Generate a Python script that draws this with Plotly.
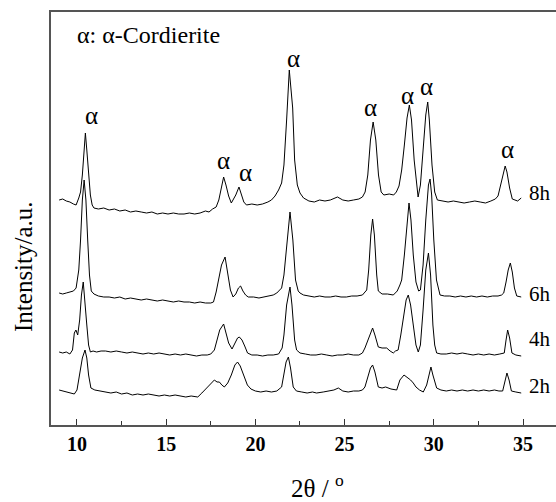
import plotly.graph_objects as go

# ---- data (2theta in degrees, intensity in a.u., traces already offset for display) ----
tt_8h = [9.0, 9.2, 9.4, 9.6, 9.8, 9.95, 10.1, 10.2, 10.3, 10.4, 10.47, 10.55, 10.65, 10.75, 10.85, 10.95,
         11.2, 11.5, 11.8, 12.1, 12.4, 12.7, 13.0, 13.3, 13.6, 13.9, 14.2, 14.5, 14.8, 15.1, 15.4, 15.7,
         16.0, 16.3, 16.6, 16.9, 17.2, 17.4, 17.6, 17.8, 17.95, 18.1, 18.22, 18.35, 18.5, 18.65, 18.75,
         18.9, 19.08, 19.2, 19.35, 19.5, 19.8, 20.1, 20.4, 20.7, 20.9, 21.1, 21.3, 21.47, 21.6, 21.75,
         21.9, 22.0, 22.09, 22.2, 22.35, 22.5, 22.7, 23.0, 23.3, 23.6, 23.9, 24.2, 24.6, 24.9, 25.2, 25.5,
         25.8, 26.0, 26.15, 26.3, 26.45, 26.6, 26.75, 26.9, 27.05, 27.2, 27.5, 27.75, 27.9, 28.05, 28.2,
         28.35, 28.5, 28.63, 28.75, 28.9, 29.05, 29.12, 29.25, 29.4, 29.55, 29.66, 29.75, 29.9, 30.05,
         30.2, 30.5, 30.8, 31.1, 31.4, 31.7, 32.0, 32.3, 32.6, 32.9, 33.2, 33.45, 33.6, 33.75, 33.9, 34.0,
         34.1, 34.25, 34.4, 34.55, 34.7, 34.9]
int_8h = [225, 226, 224, 223, 221, 220, 227, 233, 250, 275, 292, 275, 250, 230, 220, 217,
          216, 217, 215, 216, 214, 215, 213, 214, 213, 212, 213, 211, 212, 211, 212, 211,
          211, 212, 211, 212, 214, 213, 216, 218, 225, 239, 248, 240, 229, 222, 225,
          230, 238, 231, 223, 220, 221, 220, 221, 223, 225, 229, 235, 242, 260, 305,
          355, 335, 317, 265, 240, 232, 227, 224, 223, 225, 224, 225, 228, 225, 224, 225,
          226, 228, 233, 250, 285, 303, 285, 250, 233, 230, 231, 230, 233, 239, 255,
          280, 307, 320, 305, 265, 235, 228, 240, 275, 310, 323, 305, 260, 233,
          225, 224, 223, 224, 223, 222, 223, 224, 223, 222, 224, 226, 229, 240, 253, 259,
          253, 237, 226, 225, 224, 227]

tt_6h = [9.0, 9.2, 9.4, 9.6, 9.8, 9.95, 10.1, 10.2, 10.3, 10.4, 10.5, 10.6, 10.7, 10.8, 10.95,
         11.2, 11.5, 11.8, 12.1, 12.4, 12.7, 13.0, 13.3, 13.6, 13.9, 14.2, 14.5, 14.8, 15.1, 15.4, 15.7,
         16.0, 16.3, 16.6, 16.9, 17.2, 17.5, 17.65, 17.8, 17.95, 18.1, 18.3, 18.45, 18.6, 18.75, 18.9,
         19.05, 19.17, 19.3, 19.45, 19.6, 19.9, 20.2, 20.5, 20.8, 21.0, 21.2, 21.47, 21.6, 21.75, 21.94,
         22.1, 22.25, 22.4, 22.5, 22.7, 23.0, 23.3, 23.6, 23.9, 24.2, 24.5, 24.8, 25.1, 25.4, 25.7, 26.0,
         26.24, 26.35, 26.47, 26.57, 26.67, 26.8, 26.89, 27.1, 27.4, 27.73, 27.95, 28.1, 28.2, 28.35,
         28.5, 28.61, 28.72, 28.85, 29.0, 29.15, 29.25, 29.4, 29.55, 29.7, 29.79, 29.88, 30.0, 30.15,
         30.35, 30.6, 30.9, 31.2, 31.5, 31.8, 32.1, 32.4, 32.7, 33.0, 33.3, 33.6, 33.8, 33.92, 34.05,
         34.17, 34.29, 34.4, 34.52, 34.65, 34.9]
int_6h = [132, 131, 132, 133, 134, 137, 155, 185, 225, 245, 225, 185, 150, 134, 131,
          129, 128, 128, 127, 128, 126, 127, 126, 125, 126, 125, 124, 125, 124, 123, 124,
          123, 123, 122, 123, 122, 122, 123, 133, 147, 160, 168, 153, 135, 128, 131,
          137, 139, 134, 130, 128, 128, 127, 128, 129, 130, 132, 137, 150, 180, 213,
          185, 145, 134, 132, 130, 129, 128, 129, 128, 128, 129, 128, 128, 129, 129, 130,
          135, 155, 190, 206, 190, 150, 134, 131, 131, 130, 134, 140, 145, 170,
          205, 222, 205, 170, 143, 134, 135, 160, 205, 240, 246, 230, 185, 145,
          130, 129, 129, 128, 129, 128, 129, 128, 129, 128, 129, 129, 130, 132, 143,
          155, 162, 153, 137, 129, 128]

tt_4h = [9.0, 9.2, 9.4, 9.6, 9.75, 9.85, 9.94, 10.04, 10.15, 10.25, 10.35, 10.45, 10.55, 10.65, 10.75,
         10.9, 11.1, 11.35, 11.6, 11.9, 12.2, 12.5, 12.8, 13.1, 13.4, 13.7, 14.0, 14.3, 14.6, 14.9,
         15.2, 15.5, 15.8, 16.1, 16.4, 16.7, 17.0, 17.3, 17.5, 17.7, 17.85, 18.0, 18.22, 18.35, 18.5,
         18.69, 18.85, 19.0, 19.1, 19.25, 19.4, 19.56, 19.8, 20.1, 20.4, 20.7, 21.0, 21.3, 21.5, 21.6,
         21.75, 21.94, 22.05, 22.2, 22.31, 22.5, 22.8, 23.1, 23.4, 23.7, 24.0, 24.3, 24.6, 24.9, 25.2,
         25.5, 25.8, 26.0, 26.14, 26.3, 26.45, 26.57, 26.7, 26.89, 27.1, 27.36, 27.55, 27.73, 27.85,
         28.0, 28.15, 28.3, 28.45, 28.57, 28.7, 28.85, 29.0, 29.13, 29.25, 29.4, 29.55, 29.7, 29.82,
         29.95, 30.05, 30.16, 30.4, 30.7, 31.0, 31.3, 31.6, 31.9, 32.2, 32.5, 32.8, 33.1, 33.4, 33.7,
         33.95, 34.05, 34.14, 34.25, 34.38, 34.6, 34.9]
int_4h = [73, 72, 73, 71, 75, 92, 95, 90, 105, 130, 143, 125, 100, 80, 73,
          74, 73, 74, 74, 73, 74, 73, 72, 73, 72, 71, 72, 71, 72, 71,
          70, 71, 70, 71, 70, 69, 70, 70, 71, 75, 85, 95, 101, 93, 82,
          76, 81, 87, 88, 85, 79, 72, 70, 70, 69, 70, 70, 71, 77, 90,
          120, 138, 120, 85, 75, 72, 71, 70, 70, 71, 70, 69, 70, 70, 71,
          70, 70, 72, 77, 85, 93, 97, 90, 78, 77, 77, 74, 72, 74,
          75, 90, 110, 125, 130, 120, 100, 80, 73, 80, 115, 155, 172, 150,
          100, 80, 72, 71, 71, 72, 71, 72, 71, 70, 71, 70, 71, 70, 71,
          72, 85, 95, 87, 72, 70, 69]

tt_2h = [9.0, 9.2, 9.4, 9.6, 9.85, 10.0, 10.15, 10.3, 10.45, 10.55, 10.65, 10.78, 11.0, 11.35, 11.6,
         11.9, 12.2, 12.5, 12.8, 13.1, 13.4, 13.7, 14.0, 14.3, 14.6, 14.9, 15.2, 15.5, 15.8, 16.1, 16.4,
         16.77, 17.0, 17.15, 17.33, 17.5, 17.7, 17.85, 17.98, 18.12, 18.26, 18.45, 18.65, 18.85, 19.0,
         19.15, 19.38, 19.55, 19.75, 20.0, 20.3, 20.6, 20.9, 21.2, 21.47, 21.6, 21.72, 21.85, 21.97,
         22.12, 22.3, 22.6, 22.9, 23.2, 23.43, 23.8, 24.1, 24.4, 24.65, 24.9, 25.2, 25.5, 25.8, 26.0,
         26.14, 26.3, 26.45, 26.57, 26.7, 26.89, 27.1, 27.3, 27.6, 27.92, 28.1, 28.33, 28.5, 28.7,
         28.85, 29.0, 29.2, 29.41, 29.6, 29.75, 29.84, 29.95, 30.16, 30.4, 30.7, 31.0, 31.3, 31.6,
         31.9, 32.2, 32.5, 32.8, 33.1, 33.4, 33.65, 33.86, 33.97, 34.1, 34.22, 34.35, 34.6, 34.9]
int_2h = [35, 34, 33, 32, 31, 35, 50, 67, 75, 67, 50, 37, 35, 34, 33,
          32, 33, 31, 32, 30, 31, 30, 31, 30, 29, 30, 29, 30, 29, 28, 29,
          28, 32, 35, 38, 42, 45, 43, 43, 40, 38, 42, 50, 60, 63,
          59, 48, 40, 36, 34, 33, 34, 33, 34, 38, 50, 63, 68, 57,
          38, 34, 33, 32, 33, 32, 33, 34, 35, 37, 34, 33, 34, 34, 35,
          38, 47, 57, 60, 53, 38, 37, 38, 36, 35, 45, 50, 48, 45,
          42, 38, 35, 33, 40, 53, 58, 50, 37, 35, 34, 35, 34, 35,
          34, 35, 34, 35, 34, 35, 34, 34, 42, 52, 45, 34, 33, 32]

series_names = ["8h", "6h", "4h", "2h"]
series_label_y = [232, 131, 86, 39]

peak_label_x = [10.8, 18.2, 19.42, 22.16, 26.46, 28.54, 29.6, 34.14]
peak_label_y = [310, 265, 253, 367, 318, 330, 339, 276]

x_ticks = [10, 15, 20, 25, 30, 35]
x_tick_text = ["10", "15", "20", "25", "30", "35"]

# ---- figure ----
fig = go.Figure()
for tt, iy, name in [(tt_8h, int_8h, "8h"), (tt_6h, int_6h, "6h"),
                     (tt_4h, int_4h, "4h"), (tt_2h, int_2h, "2h")]:
    fig.add_trace(go.Scatter(x=tt, y=iy, mode="lines", name=name,
                             line=dict(color="black", width=1), showlegend=False))

serif = "Liberation Serif"
for name, yy in zip(series_names, series_label_y):
    fig.add_annotation(x=35.22, y=yy, xref="x", yref="y", text=name, showarrow=False,
                       xanchor="left", yanchor="middle", font=dict(family=serif, size=21, color="black"))

for xx, yy in zip(peak_label_x, peak_label_y):
    fig.add_annotation(x=xx, y=yy, xref="x", yref="y", text="α", showarrow=False,
                       xanchor="center", yanchor="middle", font=dict(family=serif, size=25, color="black"))

fig.add_annotation(x=0.0475, y=0.944, xref="paper", yref="paper", text="α: α-Cordierite",
                   showarrow=False, xanchor="left", yanchor="middle",
                   font=dict(family=serif, size=24, color="black"))

fig.add_annotation(x=0.527, y=-0.148, xref="paper", yref="paper", text="2θ / <sup>o</sup>",
                   showarrow=False, xanchor="center", yanchor="middle",
                   font=dict(family=serif, size=25, color="black"))

fig.add_annotation(x=-0.0535, y=0.385, xref="paper", yref="paper", text="Intensity/a.u.",
                   showarrow=False, xanchor="center", yanchor="middle", textangle=-90,
                   font=dict(family=serif, size=25, color="black"))

fig.update_layout(
    width=556, height=502,
    margin=dict(l=51, r=0, t=12, b=77),
    paper_bgcolor="white", plot_bgcolor="white",
    font=dict(family=serif, color="black"),
    xaxis=dict(range=[8.543, 36.85], tickvals=x_ticks,
               ticktext=["<b>" + t + "</b>" for t in x_tick_text],
               ticks="inside", ticklen=6, tickwidth=1,
               tickcolor="#333", showline=True, linecolor="#555", linewidth=1.5, mirror=True,
               showgrid=False, zeroline=False,
               minor=dict(ticks="inside", ticklen=4, tickwidth=1, tickcolor="#333", dtick=2.5, tick0=0),
               tickfont=dict(family=serif, size=20, color="black")),
    yaxis=dict(range=[0, 413], showticklabels=False, ticks="", showline=True, linecolor="#555",
               linewidth=1.5, showgrid=False, zeroline=False),
)

fig.write_html("out.html")
